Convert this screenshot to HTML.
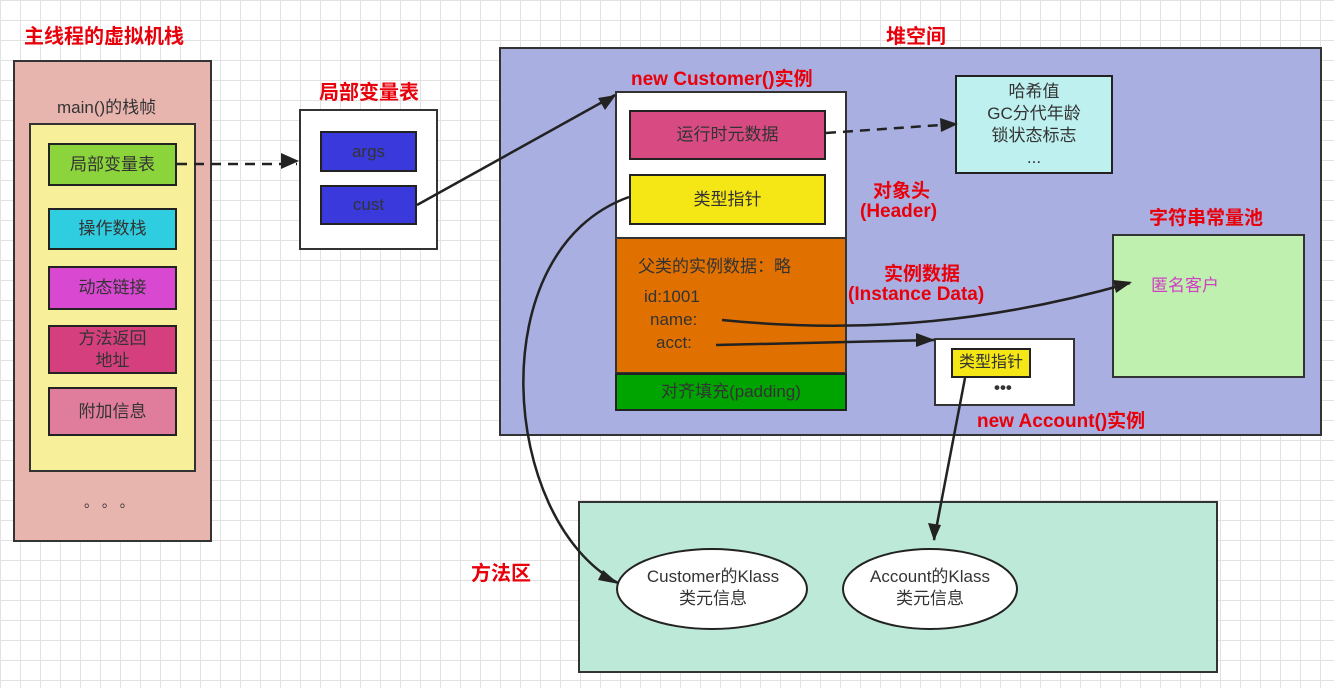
<!DOCTYPE html>
<html><head><meta charset="utf-8"><style>
html,body{margin:0;padding:0}
body{width:1334px;height:688px;overflow:hidden;font-family:"Liberation Sans","Noto Sans CJK SC",sans-serif;
background-color:#fff;
background-image:linear-gradient(#e2e2e2 1px,transparent 1px),linear-gradient(90deg,#e2e2e2 1px,transparent 1px);
background-size:20px 20px;position:relative}
.a{position:absolute;box-sizing:border-box}
.b{border:2px solid #222;display:flex;align-items:center;justify-content:center;text-align:center;font-size:17px;color:#333;line-height:22px}
.t{position:absolute;color:#e8000b;font-weight:bold;font-size:19px;white-space:nowrap}
.l{position:absolute;font-size:17px;color:#333;white-space:nowrap}
</style></head><body>
<div class="t" style="left:24px;top:20px;font-size:20px">主线程的虚拟机栈</div>
<div class="a" style="left:13px;top:60px;width:199px;height:482px;background:#e8b4ae;border:2px solid #333"></div>
<div class="l" style="left:57px;top:93px">main()的栈帧</div>
<div class="a" style="left:29px;top:123px;width:167px;height:349px;background:#f8ef9a;border:2px solid #333"></div>
<div class="a b" style="left:48px;top:143px;width:129px;height:43px;background:#8cd43c">局部变量表</div>
<div class="a b" style="left:48px;top:208px;width:129px;height:42px;background:#2fcde0">操作数栈</div>
<div class="a b" style="left:48px;top:266px;width:129px;height:44px;background:#d848d0">动态链接</div>
<div class="a b" style="left:48px;top:325px;width:129px;height:49px;background:#d63f7e">方法返回<br>地址</div>
<div class="a b" style="left:48px;top:387px;width:129px;height:49px;background:#e07d9c">附加信息</div>
<div class="l" style="left:84px;top:492px;font-size:14px">。 。 。</div>

<div class="t" style="left:319px;top:76px;font-size:20px">局部变量表</div>
<div class="a" style="left:299px;top:109px;width:139px;height:141px;background:#fff;border:2px solid #333"></div>
<div class="a b" style="left:320px;top:131px;width:97px;height:41px;background:#3a3adc">args</div>
<div class="a b" style="left:320px;top:185px;width:97px;height:40px;background:#3a3adc">cust</div>

<div class="t" style="left:886px;top:20px;font-size:20px">堆空间</div>
<div class="a" style="left:499px;top:47px;width:823px;height:389px;background:#a9afe0;border:2px solid #333"></div>
<div class="t" style="left:631px;top:64px">new Customer()实例</div>
<div class="a" style="left:615px;top:91px;width:232px;height:320px;background:#fff;border:2px solid #333"></div>
<div class="a b" style="left:629px;top:110px;width:197px;height:50px;background:#d84b82">运行时元数据</div>
<div class="a b" style="left:629px;top:174px;width:197px;height:51px;background:#f5e615">类型指针</div>
<div class="a" style="left:615px;top:237px;width:232px;height:137px;background:#e07000;border:2px solid #333"></div>
<div class="l" style="left:638px;top:252px">父类的实例数据：略</div>
<div class="l" style="left:644px;top:287px">id:1001</div>
<div class="l" style="left:650px;top:310px">name:</div>
<div class="l" style="left:656px;top:333px">acct:</div>
<div class="a b" style="left:615px;top:373px;width:232px;height:38px;background:#00a400">对齐填充(padding)</div>

<div class="a b" style="left:955px;top:75px;width:158px;height:99px;background:#bff0f0;line-height:22px">哈希值<br>GC分代年龄<br>锁状态标志<br>...</div>
<div class="t" style="left:873px;top:176px">对象头</div>
<div class="t" style="left:860px;top:201px">(Header)</div>
<div class="t" style="left:884px;top:259px">实例数据</div>
<div class="t" style="left:848px;top:284px">(Instance Data)</div>

<div class="t" style="left:1149px;top:203px">字符串常量池</div>
<div class="a" style="left:1112px;top:234px;width:193px;height:144px;background:#c0f0b0;border:2px solid #333"></div>
<div class="l" style="left:1151px;top:271px;color:#d040c0">匿名客户</div>

<div class="a" style="left:934px;top:338px;width:141px;height:68px;background:#fff;border:2px solid #333"></div>
<div class="a b" style="left:951px;top:348px;width:80px;height:30px;background:#f5e615;font-size:16px">类型指针</div>
<div class="l" style="left:994px;top:378px;font-weight:bold">•••</div>
<div class="t" style="left:977px;top:406px">new Account()实例</div>

<div class="t" style="left:471px;top:557px;font-size:20px">方法区</div>
<div class="a" style="left:578px;top:501px;width:640px;height:172px;background:#bce9d8;border:2px solid #333"></div>

<svg class="a" style="left:0;top:0" width="1334" height="688">
<ellipse cx="712" cy="589" rx="95" ry="40" fill="#fff" stroke="#222" stroke-width="2"/>
<ellipse cx="930" cy="589" rx="87" ry="40" fill="#fff" stroke="#222" stroke-width="2"/>
<g fill="none" stroke="#222" stroke-width="2.5">
<path d="M177,164H297" stroke-dasharray="10,7"/>
<path d="M826,133L955,124" stroke-dasharray="10,7"/>
<path d="M417,205L615,95"/>
<path d="M629,197C480,250 500,520 618,583"/>
<path d="M722,320C870,335 1000,320 1130,283"/>
<path d="M716,345L934,340"/>
<path d="M965,378L934,540"/>
</g>
<g fill="#222">
<path d="M299,161L281,153L281,169z"/>
<path d="M958,124L940,118L941,132z"/>
<path d="M616,95L598,98L605,110z"/>
<path d="M619,584L603,570L598,580z"/>
<path d="M1132,282L1113,280L1116,293z"/>
<path d="M935,340L916,333L916,347z"/>
<path d="M934,541L928,523L941,525z"/>
</g>
</svg>
<div class="l" style="left:638px;top:566px;width:150px;text-align:center;line-height:22px">Customer的Klass<br>类元信息</div>
<div class="l" style="left:855px;top:566px;width:150px;text-align:center;line-height:22px">Account的Klass<br>类元信息</div>
</body></html>
